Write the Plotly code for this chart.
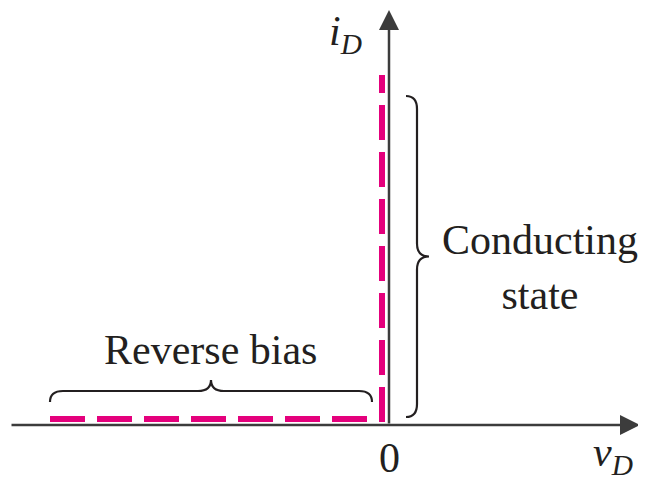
import plotly.graph_objects as go

# ideal diode characteristic, drawn slightly off the axes so it shows
curve_v = [-339, -7, -7]
curve_i = [6, 6, 350]

# axis extents (v_D left/right, i_D top)
v_axis = [-379, 251]
i_axis = [0, 415]

# brace spans
conduct_span = [8, 329]
reverse_span = [-339, -17]

INK = "#231f20"
AXIS = "#3c3c3c"
MAGENTA = "#e4007c"
FONT = "Liberation Serif"


def brace_vertical(x0, ylo, yhi, depth=12, r=13):
    # brace opening to the left, point on the right
    x1 = x0 + depth / 2 + 5
    xc = x0 + depth + 11
    ym = (ylo + yhi) / 2
    return (f"M {x0},{yhi} Q {x1},{yhi} {x1},{yhi - r} "
            f"L {x1},{ym + r} Q {x1},{ym} {xc},{ym} "
            f"Q {x1},{ym} {x1},{ym - r} "
            f"L {x1},{ylo + r} Q {x1},{ylo} {x0},{ylo}")


def brace_horizontal(y0, xlo, xhi, r=13):
    # brace opening downwards, point on top
    y1 = y0 + 11
    yc = y0 + 22
    xm = (xlo + xhi) / 2
    return (f"M {xlo},{y0} Q {xlo},{y1} {xlo + r},{y1} "
            f"L {xm - r},{y1} Q {xm},{y1} {xm},{yc} "
            f"Q {xm},{y1} {xm + r},{y1} "
            f"L {xhi - r},{y1} Q {xhi},{y1} {xhi},{y0}")


fig = go.Figure()

fig.add_trace(go.Scatter(
    x=curve_v, y=curve_i, mode="lines",
    line=dict(color=MAGENTA, width=6, dash="35px,12px"),
    hoverinfo="skip", showlegend=False,
))

# axes with arrowheads
fig.add_annotation(x=v_axis[1], y=0, ax=v_axis[0], ay=0, axref="x", ayref="y",
                   text="", showarrow=True, arrowhead=2, arrowsize=1.6,
                   arrowwidth=2.5, arrowcolor=AXIS)
fig.add_annotation(x=0, y=i_axis[1], ax=0, ay=i_axis[0], axref="x", ayref="y",
                   text="", showarrow=True, arrowhead=2, arrowsize=1.6,
                   arrowwidth=2.5, arrowcolor=AXIS)

fig.add_shape(type="path", path=brace_vertical(17, conduct_span[0], conduct_span[1]),
              line=dict(color=INK, width=2.2))
fig.add_shape(type="path", path=brace_horizontal(23, reverse_span[0], reverse_span[1]),
              line=dict(color=INK, width=2.2))

labels = [
    (-44, 391, "<i>i</i><sub><i>D</i></sub>"),
    (0, -33, "0"),
    (224, -30, "<i>v</i><sub><i>D</i></sub>"),
    (151, 158, "Conducting<br>state"),
    (-179, 75, "Reverse bias"),
]
for x, y, t in labels:
    fig.add_annotation(x=x, y=y, text=t, showarrow=False,
                       font=dict(family=FONT, size=42, color=INK))

# page body adds an 8px margin, so the ranges are shifted to compensate
fig.update_xaxes(range=[-381, 265], visible=False)
fig.update_yaxes(range=[-63, 417], visible=False)
fig.update_layout(
    width=646, height=480,
    margin=dict(l=0, r=0, t=0, b=0),
    plot_bgcolor="white", paper_bgcolor="white",
)

fig.write_html("out.html")
